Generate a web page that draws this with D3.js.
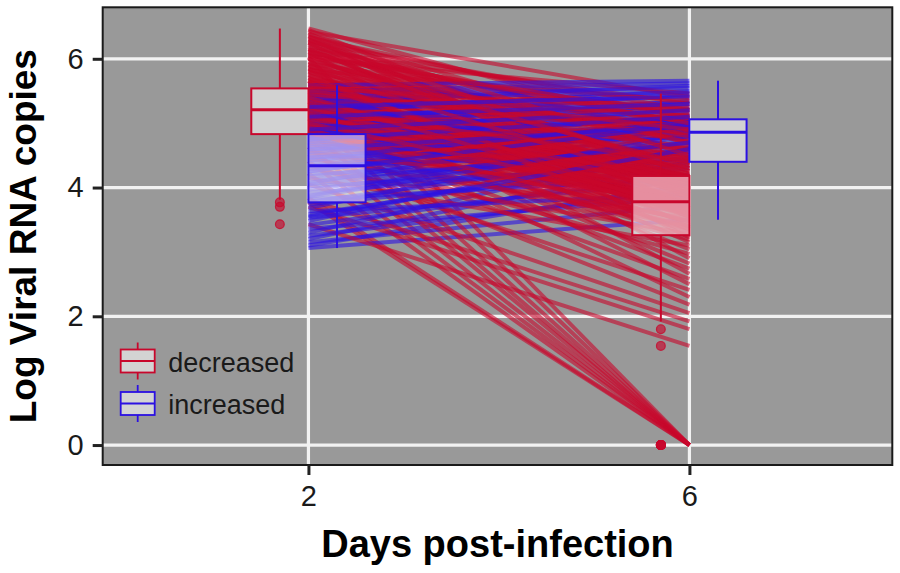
<!DOCTYPE html>
<html>
<head>
<meta charset="utf-8">
<script src="https://cdnjs.cloudflare.com/ajax/libs/d3/7.8.5/d3.min.js"></script>
<style>
  body { margin: 0; background: #fff; }
  text { font-family: "Liberation Sans", Arial, Helvetica, sans-serif; }
</style>
</head>
<body>
<div id="chart"></div>
<script>
'use strict';

// ---- data ----
var days = [2, 6];
var groups = ['decreased', 'increased'];
var yTicks = [0, 2, 4, 6];

// one entry per animal: log RNA copies on day 2 and day 6
var redDay2 = [
  3.77, 3.84, 4.22, 4.41, 4.63, 4.88, 5.07, 5.33, 5.66, 6.02,
  3.43, 3.70,
  3.81, 4.05, 4.52, 5.12, 4.35, 5.48, 4.70, 5.85, 4.95, 5.25, 6.10, 4.58, 5.40, 4.15, 5.70, 4.78, 6.25, 5.02,
  4.30, 5.55, 4.82, 5.18, 6.35, 4.60, 5.90, 5.28, 4.90, 5.62, 4.45, 6.18, 5.10, 5.44, 4.74,
  5.80, 5.22, 4.98, 6.40, 5.36, 4.86, 5.58, 5.15, 6.05, 4.66, 5.50, 5.00, 5.95, 5.20, 4.93,
  5.30, 4.84, 6.15, 5.46, 5.05, 4.55, 5.75, 5.24, 4.96, 6.30, 5.38, 5.12, 5.66, 4.72, 5.52,
  6.45, 5.18, 4.89, 5.84, 5.34, 5.03, 6.08, 5.42, 4.80, 5.60, 5.26, 6.22, 4.99, 5.48, 5.14,
  5.56, 6.00, 5.21, 4.87, 5.72, 6.28, 5.40, 5.09, 6.12, 5.64, 5.31, 6.38, 5.88, 5.16, 6.20,
  5.52, 6.47, 5.78, 5.35, 6.05, 5.68, 6.33, 5.45, 5.92, 6.26, 5.58, 6.14, 5.82, 6.42, 6.00,
  4.85, 5.05, 5.25, 5.45, 5.65, 5.85, 6.05, 6.25, 4.95, 5.15, 5.35, 5.55, 5.75, 5.95, 6.15,
  6.35, 4.90, 5.10, 5.30, 5.50, 5.70, 5.90, 6.10, 6.30, 5.00, 5.20, 5.40, 5.60, 5.80, 6.00
];
var redDay6 = [
  0, 0, 0, 0, 0, 0, 0, 0, 0, 0,
  1.54, 1.80,
  1.92, 2.05, 2.18, 2.30, 2.41, 2.50, 2.58, 2.66, 2.74, 2.82, 2.90, 2.97, 3.04, 3.10, 3.15, 3.19, 3.22, 3.25,
  3.28, 3.30, 3.33, 3.35, 3.38, 3.40, 3.42, 3.45, 3.47, 3.50, 3.52, 3.54, 3.56, 3.58, 3.60,
  3.62, 3.64, 3.66, 3.68, 3.69, 3.70, 3.72, 3.73, 3.74, 3.75, 3.76, 3.77, 3.77, 3.78, 3.78,
  3.80, 3.82, 3.83, 3.85, 3.87, 3.88, 3.90, 3.92, 3.94, 3.95, 3.97, 3.99, 4.00, 4.02, 4.04,
  4.05, 4.07, 4.08, 4.10, 4.11, 4.12, 4.13, 4.14, 4.15, 4.16, 4.16, 4.17, 4.17, 4.18, 4.18,
  4.22, 4.26, 4.30, 4.34, 4.38, 4.42, 4.46, 4.50, 4.55, 4.60, 4.64, 4.68, 4.72, 4.76, 4.80,
  4.84, 4.88, 4.92, 4.96, 5.00, 5.04, 5.08, 5.12, 5.16, 5.20, 5.25, 5.30, 5.35, 5.40, 5.46,
  3.40, 4.60, 3.70, 4.95, 3.55, 4.25, 5.10, 3.90, 4.45, 3.62, 4.05, 5.20, 3.35, 4.70, 3.85,
  4.50, 3.48, 4.12, 3.95, 4.80, 3.58, 4.35, 5.00, 4.20, 3.75, 4.40, 3.65, 4.90, 4.00, 4.30
];
var blueDay2 = [
  3.06, 3.10, 3.15, 3.20, 3.25, 3.30, 3.36, 3.42, 3.48, 3.53, 3.58, 3.63, 3.68, 3.74,
  3.78, 3.82, 3.87, 3.92, 3.97, 4.02, 4.07, 4.12, 4.17, 4.21, 4.25, 4.29, 4.32, 4.34,
  4.38, 4.42, 4.47, 4.51, 4.55, 4.59, 4.63, 4.67, 4.70, 4.74, 4.77, 4.80, 4.82, 4.83,
  4.88, 4.93, 4.98, 5.03, 5.08, 5.13, 5.18, 5.23, 5.28, 5.33, 5.38, 5.44, 5.50, 5.59,
  3.55, 3.85, 4.05, 4.25, 4.45, 4.60, 4.75, 4.90, 5.10, 5.25
];
var blueDay6 = [
  3.50, 4.05, 3.72, 4.40, 3.95, 4.62, 3.85, 4.20, 4.75, 4.10, 4.48, 3.90, 4.88, 4.30,
  4.55, 4.15, 4.95, 4.42, 4.70, 4.35, 5.02, 4.58, 4.82, 4.45, 5.10, 4.66, 4.90, 4.52,
  4.85, 5.04, 4.60, 4.93, 5.15, 4.78, 5.00, 4.86, 5.22, 4.97, 5.06, 4.89, 5.30, 5.05,
  5.08, 5.35, 5.12, 5.45, 5.20, 5.25, 5.50, 5.32, 5.40, 5.58, 5.48, 5.55, 5.62, 5.66,
  4.60, 4.80, 4.70, 4.98, 5.02, 4.95, 5.10, 5.20, 5.30, 5.42
];

// box summaries per day: [lower whisker, q1, median, q3, upper whisker]
var decreasedBox = [[3.81, 4.83, 5.21, 5.54, 6.47], [1.92, 3.26, 3.78, 4.18, 5.46]];
var increasedBox = [[3.06, 3.77, 4.34, 4.83, 5.59], [3.50, 4.40, 4.86, 5.06, 5.66]];

// ---- chart ----
var colors = { decreased: '#c8072c', increased: '#2b10e2' };
var dodge = { decreased: -0.3, increased: 0.3 };
var boxWidth = 0.6;

var W = 900, H = 573;
var panel = { left: 102.7, right: 892.3, top: 7.3, bottom: 465 };

var svg = d3.select('#chart').append('svg')
  .attr('width', W)
  .attr('height', H);

var x = d3.scaleLinear().domain([-0.16, 8.13]).range([panel.left, panel.right]);
var y = d3.scaleLinear().domain([-0.31, 6.80]).range([panel.bottom, panel.top]);

svg.append('rect')
  .attr('x', panel.left).attr('y', panel.top)
  .attr('width', panel.right - panel.left)
  .attr('height', panel.bottom - panel.top)
  .style('fill', '#999999');

// grid
svg.append('g').selectAll('line.hgrid')
  .data(yTicks)
  .enter().append('line')
  .attr('class', 'hgrid')
  .attr('x1', panel.left).attr('x2', panel.right)
  .attr('y1', function (d) { return y(d); })
  .attr('y2', function (d) { return y(d); })
  .style('stroke', '#f2f2f2')
  .style('stroke-width', 3.2);

svg.append('g').selectAll('line.vgrid')
  .data(days)
  .enter().append('line')
  .attr('class', 'vgrid')
  .attr('y1', panel.top).attr('y2', panel.bottom)
  .attr('x1', function (d) { return x(d); })
  .attr('x2', function (d) { return x(d); })
  .style('stroke', '#f2f2f2')
  .style('stroke-width', 3.2);

// paired lines per animal, plotted in animal order (groups mixed)
function pairs (a, b, group) {
  return a.map(function (v, i) { return { group: group, d2: v, d6: b[i] }; });
}
var reds = pairs(redDay2, redDay6, 'decreased');
var blues = pairs(blueDay2, blueDay6, 'increased');
var lines = [];
reds.forEach(function (r, i) {
  lines.push(r);
  var j = Math.floor(i * blues.length / reds.length);
  if (Math.floor((i + 1) * blues.length / reds.length) > j) lines.push(blues[j]);
});

svg.append('g').selectAll('line.subject')
  .data(lines)
  .enter().append('line')
  .attr('class', 'subject')
  .attr('x1', x(days[0]))
  .attr('x2', x(days[1]))
  .attr('y1', function (d) { return y(d.d2); })
  .attr('y2', function (d) { return y(d.d6); })
  .style('stroke', function (d) { return colors[d.group]; })
  .style('stroke-width', 4)
  .style('stroke-opacity', 0.6);

// boxplots
var boxes = [];
groups.forEach(function (g) {
  var stats = g === 'decreased' ? decreasedBox : increasedBox;
  var raw = g === 'decreased' ? [redDay2, redDay6] : [blueDay2, blueDay6];
  days.forEach(function (day, i) {
    var s = stats[i];
    boxes.push({
      group: g, day: day, lw: s[0], q1: s[1], med: s[2], q3: s[3], hw: s[4],
      out: raw[i].filter(function (v) { return v < s[0] || v > s[4]; })
    });
  });
});

var bx = svg.append('g').selectAll('g.box')
  .data(boxes)
  .enter().append('g')
  .attr('class', 'box')
  .style('stroke', function (d) { return colors[d.group]; });

function cx (d) { return x(d.day + dodge[d.group]); }

bx.append('line')
  .attr('x1', cx).attr('x2', cx)
  .attr('y1', function (d) { return y(d.hw); })
  .attr('y2', function (d) { return y(d.q3); })
  .style('stroke-width', 2);
bx.append('line')
  .attr('x1', cx).attr('x2', cx)
  .attr('y1', function (d) { return y(d.q1); })
  .attr('y2', function (d) { return y(d.lw); })
  .style('stroke-width', 2);
bx.append('rect')
  .attr('x', function (d) { return x(d.day + dodge[d.group] - boxWidth / 2); })
  .attr('width', x(boxWidth) - x(0))
  .attr('y', function (d) { return y(d.q3); })
  .attr('height', function (d) { return y(d.q1) - y(d.q3); })
  .style('fill', '#ffffff')
  .style('fill-opacity', 0.55)
  .style('stroke-width', 2);
bx.append('line')
  .attr('x1', function (d) { return x(d.day + dodge[d.group] - boxWidth / 2); })
  .attr('x2', function (d) { return x(d.day + dodge[d.group] + boxWidth / 2); })
  .attr('y1', function (d) { return y(d.med); })
  .attr('y2', function (d) { return y(d.med); })
  .style('stroke-width', 3);
bx.selectAll('circle')
  .data(function (d) { return d.out.map(function (v) { return { v: v, d: d }; }); })
  .enter().append('circle')
  .attr('cx', function (o) { return cx(o.d); })
  .attr('cy', function (o) { return y(o.v); })
  .attr('r', 4.4)
  .style('fill', function (o) { return colors[o.d.group]; })
  .style('fill-opacity', 0.65)
  .style('stroke-width', 1.2)
  .style('stroke-opacity', 0.8);

// panel border
svg.append('rect')
  .attr('x', panel.left).attr('y', panel.top)
  .attr('width', panel.right - panel.left)
  .attr('height', panel.bottom - panel.top)
  .style('fill', 'none')
  .style('stroke', '#1a1a1a')
  .style('stroke-width', 2);

// axes
var yAxis = svg.append('g')
  .attr('transform', 'translate(' + panel.left + ',0)')
  .call(d3.axisLeft(y).tickValues(yTicks).tickSize(10).tickPadding(9).tickFormat(d3.format('d')));
var xAxis = svg.append('g')
  .attr('transform', 'translate(0,' + panel.bottom + ')')
  .call(d3.axisBottom(x).tickValues(days).tickSize(10).tickPadding(10).tickFormat(d3.format('d')));

[yAxis, xAxis].forEach(function (a) {
  a.select('.domain').remove();
  a.selectAll('.tick line').style('stroke', '#222').style('stroke-width', 3);
  a.selectAll('.tick text')
    .style('font-size', '29px')
    .style('fill', '#1a1a1a')
    .style('font-family', '"Liberation Sans", Arial, sans-serif');
});

// axis titles
svg.append('text')
  .attr('x', (panel.left + panel.right) / 2)
  .attr('y', 557)
  .attr('text-anchor', 'middle')
  .style('font-size', '38px')
  .style('font-weight', 'bold')
  .style('fill', '#000')
  .text('Days post-infection');

svg.append('text')
  .attr('transform', 'translate(36,' + ((panel.top + panel.bottom) / 2) + ') rotate(-90)')
  .attr('text-anchor', 'middle')
  .style('font-size', '37px')
  .style('font-weight', 'bold')
  .style('fill', '#000')
  .text('Log Viral RNA copies');

// legend
var legend = svg.append('g').selectAll('g.key')
  .data(groups)
  .enter().append('g')
  .attr('class', 'key')
  .attr('transform', function (d, i) { return 'translate(120.7,' + (361 + i * 42.5) + ')'; });

legend.append('line')
  .attr('x1', 17).attr('x2', 17).attr('y1', -18.5).attr('y2', 18.5)
  .style('stroke', function (d) { return colors[d]; })
  .style('stroke-width', 1.8);
legend.append('rect')
  .attr('x', 0).attr('y', -11.5).attr('width', 34).attr('height', 23)
  .style('fill', '#d3d3d3')
  .style('stroke', function (d) { return colors[d]; })
  .style('stroke-width', 1.8);
legend.append('line')
  .attr('x1', 0).attr('x2', 34).attr('y1', 0).attr('y2', 0)
  .style('stroke', function (d) { return colors[d]; })
  .style('stroke-width', 1.8);
legend.append('text')
  .attr('x', 47.6).attr('y', 10.5)
  .style('font-size', '27px')
  .style('fill', '#1a1a1a')
  .text(function (d) { return d; });
</script>
</body>
</html>
